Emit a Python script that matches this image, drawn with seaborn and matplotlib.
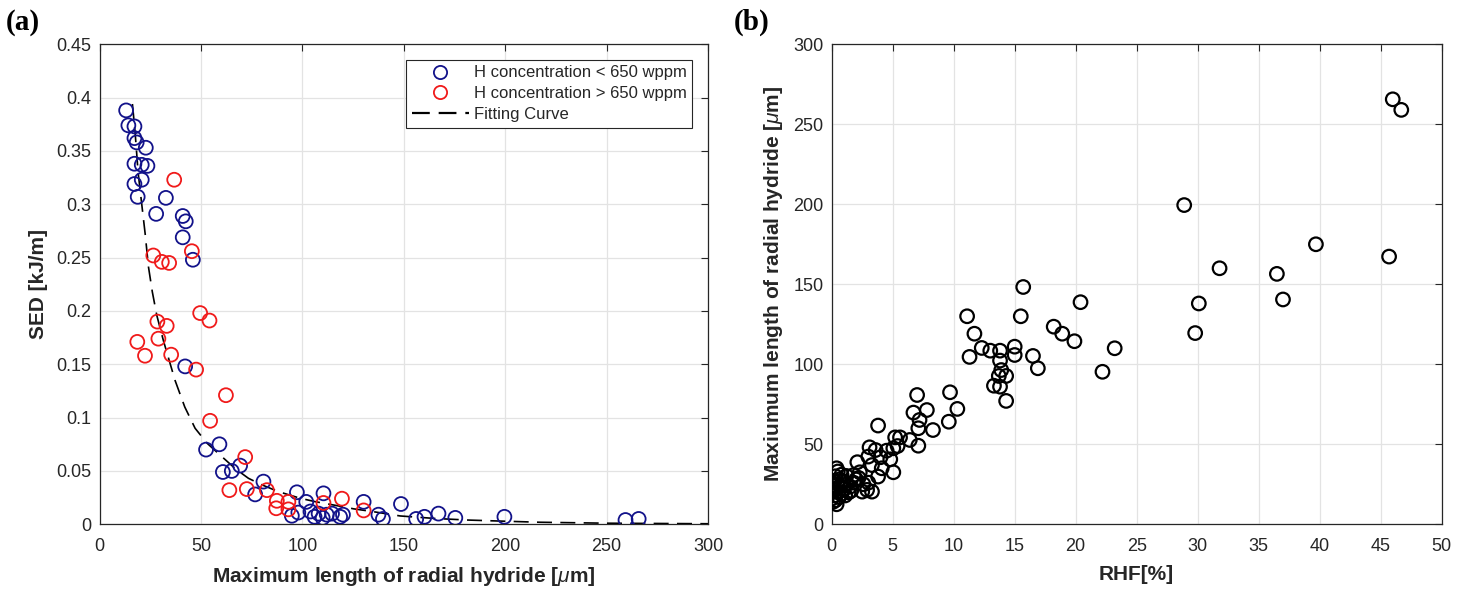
import numpy as np
import pandas as pd
import matplotlib
matplotlib.use("Agg")
import matplotlib.pyplot as plt
from matplotlib.lines import Line2D
from matplotlib.ticker import FixedLocator, FuncFormatter
import seaborn as sns

# ---------------- data: panel (a) ----------------
low_x = [13.1, 14.2, 17.2, 17.2, 18.3, 22.8, 17.2, 20.8, 23.6, 20.8, 17.2, 18.8, 32.7, 27.9,
         41.0, 42.5, 41.0, 46.0, 42.2, 52.5, 59.1, 60.8, 65.2, 69.3, 80.8, 76.7, 97.3, 94.8,
         98.0, 101.9, 104.0, 106.0, 108.0, 110.0, 110.4, 112.0, 114.6, 118.6, 120.0, 130.2,
         137.5, 139.7, 148.6, 156.1, 160.2, 167.1, 175.4, 199.6, 259.3, 265.8]
low_y = [0.388, 0.374, 0.373, 0.362, 0.358, 0.353, 0.338, 0.337, 0.336, 0.323, 0.319, 0.307, 0.306, 0.291,
         0.289, 0.284, 0.269, 0.248, 0.148, 0.070, 0.075, 0.049, 0.050, 0.055, 0.040, 0.028, 0.030, 0.008,
         0.011, 0.021, 0.012, 0.007, 0.010, 0.006, 0.029, 0.009, 0.010, 0.007, 0.009, 0.021,
         0.009, 0.005, 0.019, 0.005, 0.007, 0.010, 0.006, 0.007, 0.004, 0.005]

high_x = [36.8, 45.5, 26.5, 30.7, 34.3, 49.6, 54.2, 28.5, 33.1, 29.0, 18.6, 22.4, 35.3, 47.6,
          62.3, 54.5, 71.8, 64.0, 72.6, 82.5, 87.4, 87.1, 93.1, 93.1, 110.4, 119.5, 130.2]
high_y = [0.323, 0.256, 0.252, 0.246, 0.245, 0.198, 0.191, 0.190, 0.186, 0.174, 0.171, 0.158, 0.159, 0.145,
          0.121, 0.097, 0.063, 0.032, 0.033, 0.032, 0.022, 0.015, 0.021, 0.014, 0.020, 0.024, 0.013]

fit_x = [16.2, 17.5, 19.0, 20.8, 22.5, 24.1, 26.0, 28.2, 31.5, 37.2, 42.0, 47.1, 53.0, 60.3, 67.0,
         73.4, 80.0, 88.2, 98.9, 106.3, 115.3, 125.2, 135.0, 148.2, 165.0, 181.0, 197.6, 217.0, 250.0, 300.0]
fit_y = [0.394, 0.368, 0.330, 0.300, 0.272, 0.2415, 0.218, 0.196, 0.172, 0.135, 0.110, 0.090, 0.076, 0.0634, 0.052,
         0.0431, 0.037, 0.0306, 0.0244, 0.0212, 0.0181, 0.0145, 0.0118, 0.0078, 0.0055, 0.004, 0.003, 0.0019, 0.001, 0.0005]

# ---------------- data: panel (b) ----------------
rhf = [46.0, 46.7, 28.9, 39.7, 45.7, 31.8, 36.5, 37.0, 30.1, 29.8, 23.2, 22.2,
       20.4, 15.7, 11.1, 15.5, 18.2, 18.9, 19.9, 11.7, 12.3, 13.0, 13.8, 15.0, 15.0, 11.3, 16.5, 16.9,
       13.8, 13.9, 13.7, 14.3, 13.3, 13.8, 14.3,
       7.0, 9.7, 10.3, 7.8, 6.7, 7.2, 9.6, 7.1, 8.3, 6.4, 7.1, 3.8,
       5.2, 5.6, 5.4, 5.05, 3.1, 3.6, 4.5, 3.0, 4.0, 4.8, 2.1, 3.3, 4.1, 5.05, 3.8, 2.3, 1.8, 1.2,
       2.5, 3.3, 2.9, 1.5,
       0.4, 0.5, 0.3, 0.2, 0.6, 0.1, 0.3, 0.5, 0.2, 0.0, 0.1, 0.3, 0.6, 0.8, 1.0, 1.2, 0.9, 0.7,
       1.4, 1.8, 2.0, 1.1, 0.4, 0.0, 0.5, 2.6, 1.6, 0.8, 2.2, 3.0]
max_len = [265.6, 259.0, 199.5, 175.0, 167.3, 160.0, 156.5, 140.5, 138.0, 119.5, 110.0, 95.3,
           138.8, 148.3, 130.0, 130.0, 123.5, 119.1, 114.4, 119.1, 110.2, 108.5, 108.5, 111.0, 105.8, 104.6, 105.2, 97.5,
           102.3, 96.4, 92.7, 92.7, 86.6, 86.0, 77.1,
           80.8, 82.5, 72.1, 71.4, 69.8, 65.2, 64.1, 60.0, 58.9, 52.7, 49.1, 61.7,
           54.3, 54.3, 48.9, 47.5, 48.1, 46.4, 46.0, 42.3, 41.9, 40.6, 38.8, 37.0, 35.0, 32.5, 29.8, 32.5, 30.8, 30.2,
           20.4, 20.4, 21.5, 23.5,
           35.0, 33.0, 30.0, 27.0, 28.0, 24.0, 22.0, 20.0, 18.0, 16.0, 14.0, 15.0, 17.0, 19.0, 22.0, 25.0, 27.0, 24.0,
           20.0, 26.0, 28.0, 18.0, 12.5, 20.0, 25.0, 25.0, 21.0, 31.0, 29.0, 26.0]

a_xticks = [0, 50, 100, 150, 200, 250, 300]
a_yticks = [0, 0.05, 0.1, 0.15, 0.2, 0.25, 0.3, 0.35, 0.4, 0.45]
b_xticks = [0, 5, 10, 15, 20, 25, 30, 35, 40, 45, 50]
b_yticks = [0, 50, 100, 150, 200, 250, 300]

# ---------------- style ----------------
sns.set_style("white")
plt.rcParams["font.family"] = ["Liberation Sans", "DejaVu Sans"]
plt.rcParams["mathtext.fontset"] = "custom"
plt.rcParams["mathtext.it"] = "Liberation Sans:italic"
plt.rcParams["mathtext.rm"] = "Liberation Sans"

AX_COL = "#262626"
GRID_COL = "#e3e3e3"
BLUE = "#12128a"
RED = "#f01a1a"

fig = plt.figure(figsize=(14.62, 5.91), dpi=100)
axA = fig.add_axes([0.0681, 0.1129, 0.4162, 0.8122])
axB = fig.add_axes([0.5689, 0.1129, 0.4171, 0.8122])


def style_axes(ax, xticks, yticks, xlim, ylim):
    ax.set_xlim(*xlim)
    ax.set_ylim(*ylim)
    ax.xaxis.set_major_locator(FixedLocator(xticks))
    ax.yaxis.set_major_locator(FixedLocator(yticks))
    fmt = FuncFormatter(lambda v, p: "%g" % v)
    ax.xaxis.set_major_formatter(fmt)
    ax.yaxis.set_major_formatter(fmt)
    ax.grid(True, color=GRID_COL, linewidth=0.9)
    ax.set_axisbelow(True)
    ax.tick_params(direction="in", top=True, right=True, length=5, width=0.8,
                   color=AX_COL, labelcolor=AX_COL, labelsize=13)
    ax.tick_params(axis="x", pad=10)
    ax.tick_params(axis="y", pad=6)
    for s in ax.spines.values():
        s.set_visible(True)
        s.set_color(AX_COL)
        s.set_linewidth(0.9)


# ---------------- panel (a) ----------------
df_low = pd.DataFrame({"x": low_x, "y": low_y})
df_high = pd.DataFrame({"x": high_x, "y": high_y})
df_fit = pd.DataFrame({"x": fit_x, "y": fit_y})

sns.lineplot(data=df_fit, x="x", y="y", ax=axA, color="k", linewidth=1.2,
             linestyle=(0, (9, 5)), estimator=None, sort=False, zorder=2)
sns.scatterplot(data=df_low, x="x", y="y", ax=axA, marker="o", s=100,
                facecolor="none", edgecolor=BLUE, linewidth=1.3, zorder=3)
sns.scatterplot(data=df_high, x="x", y="y", ax=axA, marker="o", s=100,
                facecolor="none", edgecolor=RED, linewidth=1.3, zorder=3)

style_axes(axA, a_xticks, a_yticks, (0, 300), (0, 0.45))
axA.set_xlabel(r"Maximum length of radial hydride [$\mu$m]", fontsize=15,
               fontweight="bold", color=AX_COL, labelpad=7)
axA.set_ylabel("SED [kJ/m]", fontsize=15, fontweight="bold", color=AX_COL, labelpad=6)

handles = [
    Line2D([], [], linestyle="none", marker="o", markersize=9.5, markerfacecolor="none",
           markeredgecolor=BLUE, markeredgewidth=1.3),
    Line2D([], [], linestyle="none", marker="o", markersize=9.5, markerfacecolor="none",
           markeredgecolor=RED, markeredgewidth=1.3),
    Line2D([], [], color="k", linewidth=1.6, linestyle=(0, (8, 4))),
]
labels = ["H concentration < 650 wppm", "H concentration > 650 wppm", "Fitting Curve"]
leg = axA.legend(handles, labels, loc="upper right", bbox_to_anchor=(0.974, 0.968),
                 borderaxespad=0, fontsize=12, frameon=True, fancybox=False,
                 framealpha=1, edgecolor=AX_COL, handlelength=3.4, handletextpad=0.3,
                 labelspacing=0.35, borderpad=0.35)
leg.get_frame().set_linewidth(0.8)
for t in leg.get_texts():
    t.set_color(AX_COL)

# ---------------- panel (b) ----------------
df_b = pd.DataFrame({"rhf": rhf, "len": max_len})
sns.scatterplot(data=df_b, x="rhf", y="len", ax=axB, marker="o", s=95,
                facecolor="none", edgecolor="black", linewidth=1.6, zorder=3)
style_axes(axB, b_xticks, b_yticks, (0, 50), (0, 300))
axB.set_xlabel("RHF[%]", fontsize=15, fontweight="bold", color=AX_COL, labelpad=7)
axB.set_ylabel(r"Maxiumum length of radial hydride [$\mu$m]", fontsize=15,
               fontweight="bold", color=AX_COL, labelpad=6)

# panel tags
fig.text(0.004, 0.962, "(a)", fontsize=21, fontweight="bold", family="Liberation Serif",
         va="center", ha="left", color="black")
fig.text(0.502, 0.962, "(b)", fontsize=21, fontweight="bold", family="Liberation Serif",
         va="center", ha="left", color="black")

fig.savefig("out.png", dpi=100)
